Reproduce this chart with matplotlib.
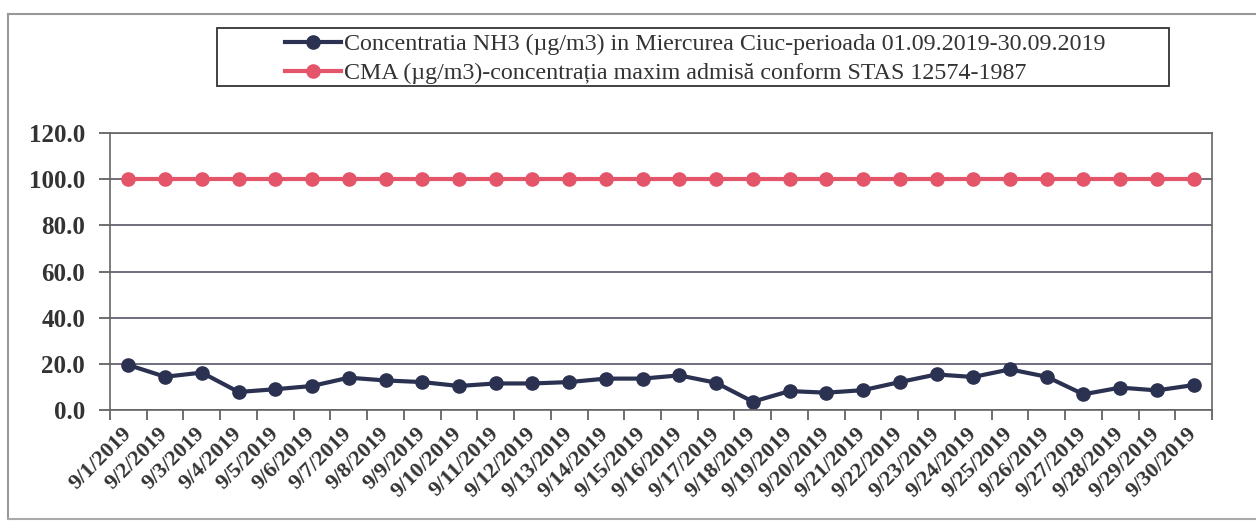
import matplotlib.pyplot as plt
from matplotlib.lines import Line2D
from matplotlib.patches import Rectangle

plt.rcParams['font.family'] = ['Liberation Serif', 'DejaVu Serif']

# Data
dates = ["9/%d/2019" % d for d in range(1, 31)]
nh3 = [19.5, 14.4, 16.2, 7.8, 9.0, 10.4, 14.0, 12.8, 12.1, 10.4,
       11.5, 11.5, 12.1, 13.6, 13.6, 15.0, 11.8, 3.6, 8.2, 7.5,
       8.6, 12.1, 15.4, 14.3, 17.6, 14.4, 6.8, 9.7, 8.5, 10.8]
cma = [100.0] * 30
yticks = [0, 20, 40, 60, 80, 100, 120]

label_nh3 = "Concentratia NH3 (µg/m3) in Miercurea Ciuc-perioada 01.09.2019-30.09.2019"
label_cma = "CMA (µg/m3)-concentrația maxim admisă conform STAS 12574-1987"

navy = "#2b3150"
red = "#e4556a"

fig = plt.figure(figsize=(12.56, 5.23), dpi=100)
W, H = 1256.0, 523.0
ax = fig.add_axes([110 / W, 1 - 410 / H, (1212 - 110) / W, (410 - 133) / H])

x = list(range(len(dates)))
ax.plot(x, nh3, color=navy, lw=3, marker="o", markersize=9.5, label=label_nh3)
ax.plot(x, cma, color=red, lw=3, marker="o", markersize=9.5, label=label_cma)

ax.set_xlim(-0.5, len(dates) - 0.5)
ax.set_ylim(0, 120)
ax.set_yticks(yticks)
ax.set_yticklabels(["%.1f" % v for v in yticks], fontsize=18, fontweight="bold",
                   color="#333333")
ax.yaxis.grid(True, color="#555566", lw=1.2)
ax.set_axisbelow(True)

ax.set_xticks(x)
ax.set_xticklabels(dates, rotation=45, ha="right", va="center",
                   rotation_mode="anchor", fontsize=16, fontweight="bold",
                   color="#333333")
ax.tick_params(axis="x", which="major", length=0, pad=15)
ax.set_xticks([i - 0.5 for i in range(len(dates) + 1)], minor=True)
ax.tick_params(axis="x", which="minor", length=7, color="#555555", width=1.2)
ax.tick_params(axis="y", length=8, color="#555555", width=1.2, pad=10)

for s in ax.spines.values():
    s.set_color("#666666")
    s.set_linewidth(1.2)

# legend box drawn separately, Excel style with wide left padding
fig.add_artist(Rectangle((217 / W, 1 - 86 / H), (1169 - 217) / W, 58 / H,
                         transform=fig.transFigure, fill=False,
                         edgecolor="#333333", lw=1.3))
leg = fig.legend(loc="upper left", bbox_to_anchor=(283 / W, 1 - 31 / H),
                 borderaxespad=0, fontsize=17.3, frameon=False,
                 handlelength=2.3, handletextpad=0.15, borderpad=0.1,
                 labelspacing=0.3)
for t in leg.get_texts():
    t.set_color("#333333")

# outer chart frame
fig.add_artist(Line2D([8 / W, 1.0], [1 - 14 / H, 1 - 14 / H], color="#999999", lw=1.5))
fig.add_artist(Line2D([8 / W, 8 / W], [1 - 14 / H, 1 - 519 / H], color="#999999", lw=1.5))
fig.add_artist(Line2D([8 / W, 1.0], [1 - 519 / H, 1 - 519 / H], color="#aaaaaa", lw=1.5))

plt.savefig("out.png", dpi=100)
